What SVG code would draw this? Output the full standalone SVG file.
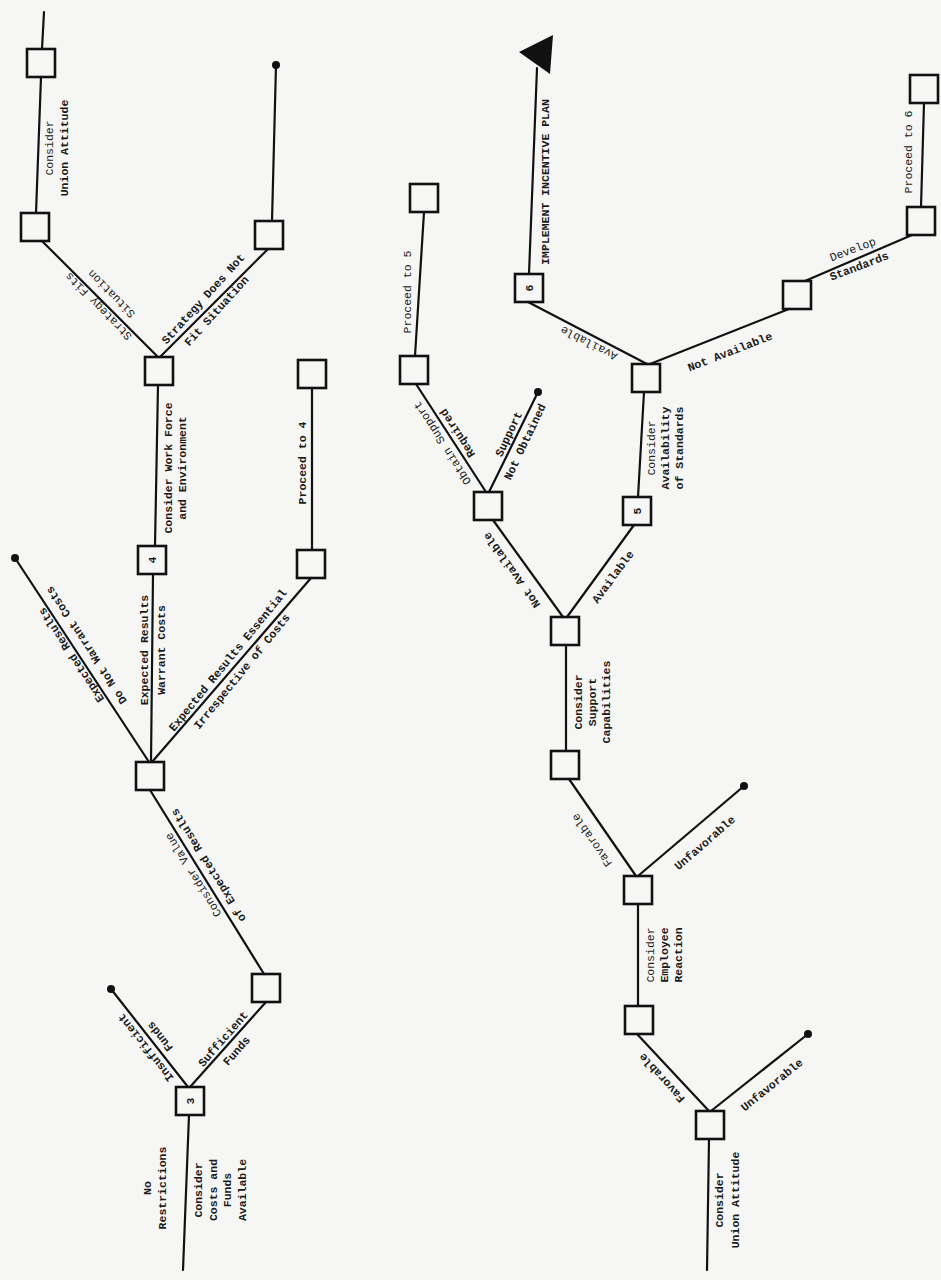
<svg xmlns="http://www.w3.org/2000/svg" width="941" height="1280" viewBox="0 0 941 1280">
<style>
.bx{fill:none;stroke:#111;stroke-width:2.6}
.ln{fill:none;stroke:#111;stroke-width:2.2;stroke-linecap:round}
.dt{fill:#111}
text{font-family:"Liberation Mono","DejaVu Sans Mono",monospace;font-size:11.5px;font-weight:bold;fill:#1a1a1a;text-anchor:middle;dominant-baseline:central}
.lt{font-weight:normal}
</style>
<rect width="941" height="1280" fill="#f6f6f4"/>
<g id="connectors">
<path class="ln" d="M183,1270 L189,1115"/>
<path class="ln" d="M188,1087 L111,989"/>
<path class="ln" d="M190,1087 L266,1002"/>
<path class="ln" d="M264,974 L150,790"/>
<path class="ln" d="M149,762 L15,558"/>
<path class="ln" d="M151,762 L153,574"/>
<path class="ln" d="M152,762 L311,578"/>
<path class="ln" d="M155,546 L158,385"/>
<path class="ln" d="M312,550 L312,388"/>
<path class="ln" d="M158,357 L42,241"/>
<path class="ln" d="M160,357 L268,249"/>
<path class="ln" d="M36,213 L41,77"/>
<path class="ln" d="M42,49 L44,12"/>
<path class="ln" d="M272,221 L276,65"/>
<path class="ln" d="M707,1270 L709,1139"/>
<path class="ln" d="M711,1111 L808,1034"/>
<path class="ln" d="M709,1111 L637,1034"/>
<path class="ln" d="M638,1006 L638,904"/>
<path class="ln" d="M638,876 L744,786"/>
<path class="ln" d="M636,876 L569,779"/>
<path class="ln" d="M566,751 L566,645"/>
<path class="ln" d="M563,617 L493,520"/>
<path class="ln" d="M567,617 L634,525"/>
<path class="ln" d="M486,492 L416,384"/>
<path class="ln" d="M489,492 L538,392"/>
<path class="ln" d="M415,356 L424,212"/>
<path class="ln" d="M638,497 L644,392"/>
<path class="ln" d="M647,364 L528,302"/>
<path class="ln" d="M650,364 L789,309"/>
<path class="ln" d="M805,281 L912,235"/>
<path class="ln" d="M921,207 L924,103"/>
<path class="ln" d="M529,274 L537,68"/>
<polygon class="dt" points="519,52 553,35 550,74"/>
<circle class="dt" cx="111" cy="989" r="4"/>
<circle class="dt" cx="15" cy="558" r="4"/>
<circle class="dt" cx="276" cy="65" r="4"/>
<circle class="dt" cx="808" cy="1034" r="4"/>
<circle class="dt" cx="744" cy="786" r="4"/>
<circle class="dt" cx="538" cy="392" r="4"/>
</g>
<g id="n3"><rect class="bx" x="176" y="1087" width="28" height="28"/><text transform="translate(190,1101) rotate(-90)">3</text></g>
<g id="na"><rect class="bx" x="252" y="974" width="28" height="28"/></g>
<g id="nb"><rect class="bx" x="136" y="762" width="28" height="28"/></g>
<g id="n4"><rect class="bx" x="138" y="546" width="28" height="28"/><text transform="translate(152,560) rotate(-90)">4</text></g>
<g id="nc"><rect class="bx" x="297" y="550" width="28" height="28"/></g>
<g id="nd"><rect class="bx" x="145" y="357" width="28" height="28"/></g>
<g id="ne"><rect class="bx" x="298" y="360" width="28" height="28"/></g>
<g id="nf"><rect class="bx" x="21" y="213" width="28" height="28"/></g>
<g id="ng"><rect class="bx" x="255" y="221" width="28" height="28"/></g>
<g id="nh"><rect class="bx" x="27" y="49" width="28" height="28"/></g>
<g id="c1"><rect class="bx" x="696" y="1111" width="28" height="28"/></g>
<g id="c2"><rect class="bx" x="625" y="1006" width="28" height="28"/></g>
<g id="c3"><rect class="bx" x="624" y="876" width="28" height="28"/></g>
<g id="c4"><rect class="bx" x="551" y="751" width="28" height="28"/></g>
<g id="c5"><rect class="bx" x="551" y="617" width="28" height="28"/></g>
<g id="c6"><rect class="bx" x="474" y="492" width="28" height="28"/></g>
<g id="c7"><rect class="bx" x="623" y="497" width="28" height="28"/><text transform="translate(637,511) rotate(-90)">5</text></g>
<g id="c8"><rect class="bx" x="400" y="356" width="28" height="28"/></g>
<g id="c9"><rect class="bx" x="410" y="184" width="28" height="28"/></g>
<g id="c10"><rect class="bx" x="632" y="364" width="28" height="28"/></g>
<g id="c11"><rect class="bx" x="515" y="274" width="28" height="28"/><text transform="translate(529,288) rotate(-90)">6</text></g>
<g id="c12"><rect class="bx" x="783" y="281" width="28" height="28"/></g>
<g id="c13"><rect class="bx" x="907" y="207" width="28" height="28"/></g>
<g id="c14"><rect class="bx" x="910" y="75" width="28" height="28"/></g>
<g id="labels">
<g transform="translate(154.5,1188) rotate(-90)"><text y="-7.5">No</text><text y="7.5">Restrictions</text></g>
<g transform="translate(220.5,1190) rotate(-90)"><text y="-21.75">Consider</text><text y="-7.25">Costs and</text><text y="7.25">Funds</text><text y="21.75">Available</text></g>
<g transform="translate(153,1042) rotate(-128.2)"><text y="-9">Insufficient</text><text y="9">Funds</text></g>
<g transform="translate(230,1045) rotate(-49)"><text y="-9">Sufficient</text><text y="9">Funds</text></g>
<g transform="translate(201,870) rotate(-121.9)"><text class="lt" y="-9">Consider Value</text><text y="9">of Expected Results</text></g>
<g transform="translate(79,650) rotate(-123.1)"><text y="-9">Expected Results</text><text y="9">Do Not Warrant Costs</text></g>
<g transform="translate(152.5,650) rotate(-90)"><text y="-8.5">Expected Results</text><text y="8.5">Warrant Costs</text></g>
<g transform="translate(235,666) rotate(-50.8)"><text y="-9">Expected Results Essential</text><text y="9">Irrespective of Costs</text></g>
<g transform="translate(175.5,468) rotate(-90)"><text y="-7">Consider Work Force</text><text y="7">and Environment</text></g>
<g transform="translate(302,463) rotate(-90)"><text>Proceed to 4</text></g>
<g transform="translate(105,300) rotate(-134.5)"><text class="lt" y="-9">Strategy Fits</text><text class="lt" y="9">Situation</text></g>
<g transform="translate(210,305) rotate(-47.8)"><text y="-9">Strategy Does Not</text><text y="9">Fit Situation</text></g>
<g transform="translate(57,148) rotate(-90)"><text class="lt" y="-7.5">Consider</text><text y="7.5">Union Attitude</text></g>
<g transform="translate(727,1200) rotate(-90)"><text y="-8">Consider</text><text y="8">Union Attitude</text></g>
<g transform="translate(662,1078) rotate(-132.3)"><text>Favorable</text></g>
<g transform="translate(772,1085) rotate(-39.1)"><text>Unfavorable</text></g>
<g transform="translate(664,955) rotate(-90)"><text class="lt" y="-14">Consider</text><text y="0">Employee</text><text y="14">Reaction</text></g>
<g transform="translate(705,843) rotate(-40.9)"><text>Unfavorable</text></g>
<g transform="translate(592,840) rotate(-124.6)"><text class="lt">Favorable</text></g>
<g transform="translate(592,702) rotate(-90)"><text y="-14">Consider</text><text y="0">Support</text><text y="14">Capabilities</text></g>
<g transform="translate(512,570) rotate(-125.4)"><text>Not Available</text></g>
<g transform="translate(613,577) rotate(-53.6)"><text>Available</text></g>
<g transform="translate(450,438) rotate(-122.7)"><text class="lt" y="-9">Obtain Support</text><text y="9">Required</text></g>
<g transform="translate(517,438) rotate(-64.6)"><text y="-9">Support</text><text y="9">Not Obtained</text></g>
<g transform="translate(407,292) rotate(-90)"><text class="lt">Proceed to 5</text></g>
<g transform="translate(545,182) rotate(-90)"><text>IMPLEMENT INCENTIVE PLAN</text></g>
<g transform="translate(665,448) rotate(-90)"><text class="lt" y="-14">Consider</text><text y="0">Availability</text><text y="14">of Standards</text></g>
<g transform="translate(589,343) rotate(-153.2)"><text class="lt">Available</text></g>
<g transform="translate(730,352) rotate(-21.1)"><text>Not Available</text></g>
<g transform="translate(856,258) rotate(-21)"><text class="lt" y="-9">Develop</text><text y="9">Standards</text></g>
<g transform="translate(908,152) rotate(-90)"><text class="lt">Proceed to 6</text></g>
</g>
</svg>
